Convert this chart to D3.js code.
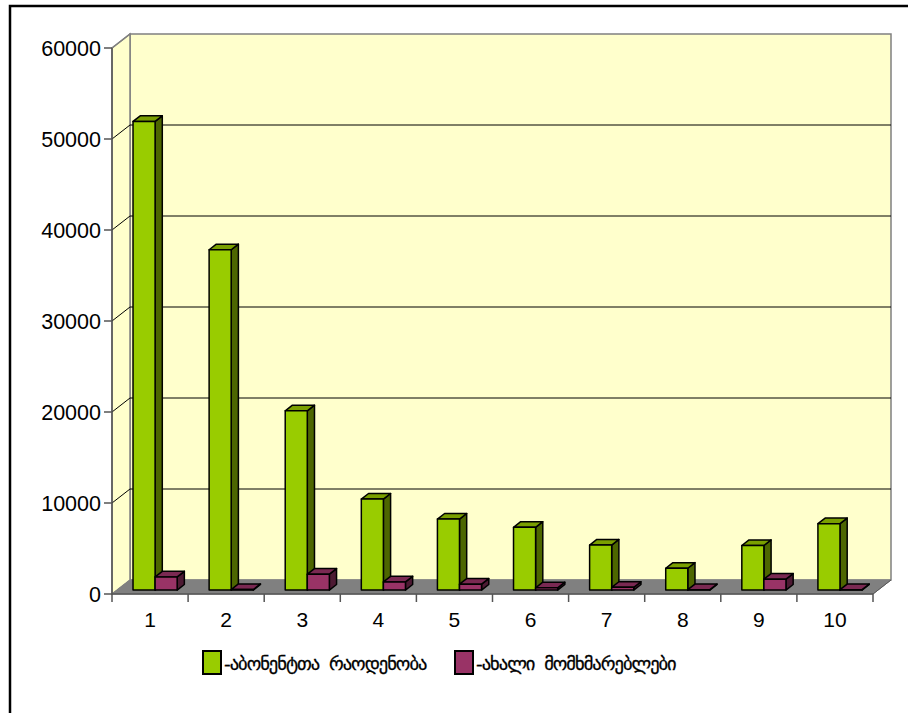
<!DOCTYPE html>
<html>
<head>
<meta charset="utf-8">
<script src="https://cdnjs.cloudflare.com/ajax/libs/d3/7.8.5/d3.min.js"></script>
<style>
  body { margin: 0; background: #fff; }
  svg { display: block; }
</style>
</head>
<body>
<svg id="chart"></svg>
<script>
// categories and the two series
var categories = ["1","2","3","4","5","6","7","8","9","10"];
var subscribers = [51500, 37400, 19700, 10000, 7800, 6900, 4950, 2400, 4900, 7300];
var newUsers = [1450, 60, 1750, 900, 650, 250, 300, 40, 1200, 40];
var yTicks = [0, 10000, 20000, 30000, 40000, 50000, 60000];
var seriesNames = ["-აბონენტთა  რაოდენობა", "-ახალი  მომხმარებლები"];

var screen = {width: 908, height: 713};
var plot = {left: 112, right: 873, top: 48, bottom: 594};
var depth = {dx: 18, dy: -14};

var svg = d3.select("#chart")
  .attr("width", screen.width)
  .attr("height", screen.height);

var xScale = d3.scaleBand()
  .domain(categories)
  .range([plot.left, plot.right]);

var yScale = d3.scaleLinear()
  .domain([0, 60000])
  .range([plot.bottom, plot.top]);

var pts = function(arr) {
  return arr.map(function(p) { return p[0] + "," + p[1]; }).join(" ");
};

// outer frame
svg.append("rect")
  .attr("x", 10).attr("y", 6)
  .attr("width", 920).attr("height", 730)
  .attr("fill", "none").attr("stroke", "#000").attr("stroke-width", 2.5);

var y0 = yScale(0), yTop = yScale(60000);
var L = plot.left, R = plot.right;
var dx = depth.dx, dy = depth.dy;

// back wall
svg.append("polygon")
  .attr("points", pts([[L + dx, yTop + dy], [R + dx, yTop + dy], [R + dx, y0 + dy], [L + dx, y0 + dy]]))
  .attr("fill", "#FFFFCC").attr("stroke", "#808080").attr("stroke-width", 1.5);

// side wall
svg.append("polygon")
  .attr("points", pts([[L, yTop], [L + dx, yTop + dy], [L + dx, y0 + dy], [L, y0]]))
  .attr("fill", "#FFFFCC").attr("stroke", "#808080").attr("stroke-width", 1.5);

// floor
svg.append("polygon")
  .attr("points", pts([[L, y0], [R, y0], [R + dx, y0 + dy], [L + dx, y0 + dy]]))
  .attr("fill", "#808080").attr("stroke", "#808080").attr("stroke-width", 1);

// gridlines
var grid = svg.append("g");
yTicks.filter(function(t) { return t > 0 && t < 60000; }).forEach(function(t) {
  var yy = yScale(t);
  grid.append("polyline")
    .attr("points", pts([[L, yy], [L + dx, yy + dy], [R + dx, yy + dy]]))
    .attr("fill", "none").attr("stroke", "#000").attr("stroke-width", 1);
});
grid.append("line")
  .attr("x1", L).attr("y1", yTop).attr("x2", L + dx).attr("y2", yTop + dy)
  .attr("stroke", "#808080").attr("stroke-width", 1.5);

// y axis
svg.append("line")
  .attr("x1", L).attr("y1", yTop).attr("x2", L).attr("y2", y0)
  .attr("stroke", "#555").attr("stroke-width", 1.5);
var yAxis = svg.append("g");
yTicks.forEach(function(t) {
  var yy = yScale(t);
  yAxis.append("line")
    .attr("x1", L - 8).attr("x2", L).attr("y1", yy).attr("y2", yy)
    .attr("stroke", "#555").attr("stroke-width", 1.5);
  yAxis.append("text")
    .attr("x", L - 11).attr("y", yy + 7.5)
    .attr("text-anchor", "end")
    .attr("font-family", "Liberation Sans, Arial, sans-serif")
    .attr("font-size", 21.5)
    .text(t);
});

// x axis
svg.append("line")
  .attr("x1", L).attr("y1", y0).attr("x2", R).attr("y2", y0)
  .attr("stroke", "#555").attr("stroke-width", 1.5);
svg.append("line")
  .attr("x1", R).attr("y1", y0).attr("x2", R + dx).attr("y2", y0 + dy)
  .attr("stroke", "#555").attr("stroke-width", 1);
var xAxis = svg.append("g");
d3.range(categories.length + 1).forEach(function(i) {
  var xx = L + i * xScale.step();
  xAxis.append("line")
    .attr("x1", xx).attr("x2", xx).attr("y1", y0).attr("y2", y0 + 8)
    .attr("stroke", "#555").attr("stroke-width", 1.5);
});
categories.forEach(function(c) {
  xAxis.append("text")
    .attr("x", xScale(c) + xScale.bandwidth() / 2)
    .attr("y", 627)
    .attr("text-anchor", "middle")
    .attr("font-family", "Liberation Sans, Arial, sans-serif")
    .attr("font-size", 21)
    .text(c);
});

// bars
var series = [
  {values: subscribers, front: "#99CC00", top: "#7A9F00", side: "#4D6600"},
  {values: newUsers, front: "#993366", top: "#7A2952", side: "#4D1A33"}
];
var t0 = 0.28, t1 = 0.68;
var barW = xScale.bandwidth() * 0.29;
var bars = svg.append("g");

categories.forEach(function(c, i) {
  var cx = xScale(c) + xScale.bandwidth() / 2;
  series.forEach(function(s, si) {
    var v = s.values[i];
    var x0 = cx - barW + si * barW + t0 * dx;
    var x1 = x0 + barW;
    var yb = y0 + t0 * dy;
    var yt = yScale(v) + t0 * dy;
    var ddx = (t1 - t0) * dx, ddy = (t1 - t0) * dy;
    var g = bars.append("g")
      .attr("stroke", "#000").attr("stroke-width", 1.5)
      .attr("stroke-linejoin", "round");
    g.append("polygon")
      .attr("points", pts([[x1, yt], [x1 + ddx, yt + ddy], [x1 + ddx, yb + ddy], [x1, yb]]))
      .attr("fill", s.side);
    g.append("polygon")
      .attr("points", pts([[x0, yt], [x0 + ddx, yt + ddy], [x1 + ddx, yt + ddy], [x1, yt]]))
      .attr("fill", s.top);
    g.append("rect")
      .attr("x", x0).attr("y", yt)
      .attr("width", barW).attr("height", Math.max(0, yb - yt))
      .attr("fill", s.front);
  });
});

// legend
var legendX = [203, 455];
var legend = svg.append("g");
series.forEach(function(s, i) {
  legend.append("rect")
    .attr("x", legendX[i]).attr("y", 651)
    .attr("width", 18).attr("height", 23)
    .attr("fill", s.front).attr("stroke", "#000").attr("stroke-width", 2);
  legend.append("text")
    .attr("x", legendX[i] + 21).attr("y", 670)
    .attr("font-family", "DejaVu Sans, sans-serif")
    .attr("font-size", 18.5)
    .attr("letter-spacing", -1)
    .attr("stroke", "#000").attr("stroke-width", 0.3)
    .style("white-space", "pre")
    .text(seriesNames[i]);
});
</script>
</body>
</html>
